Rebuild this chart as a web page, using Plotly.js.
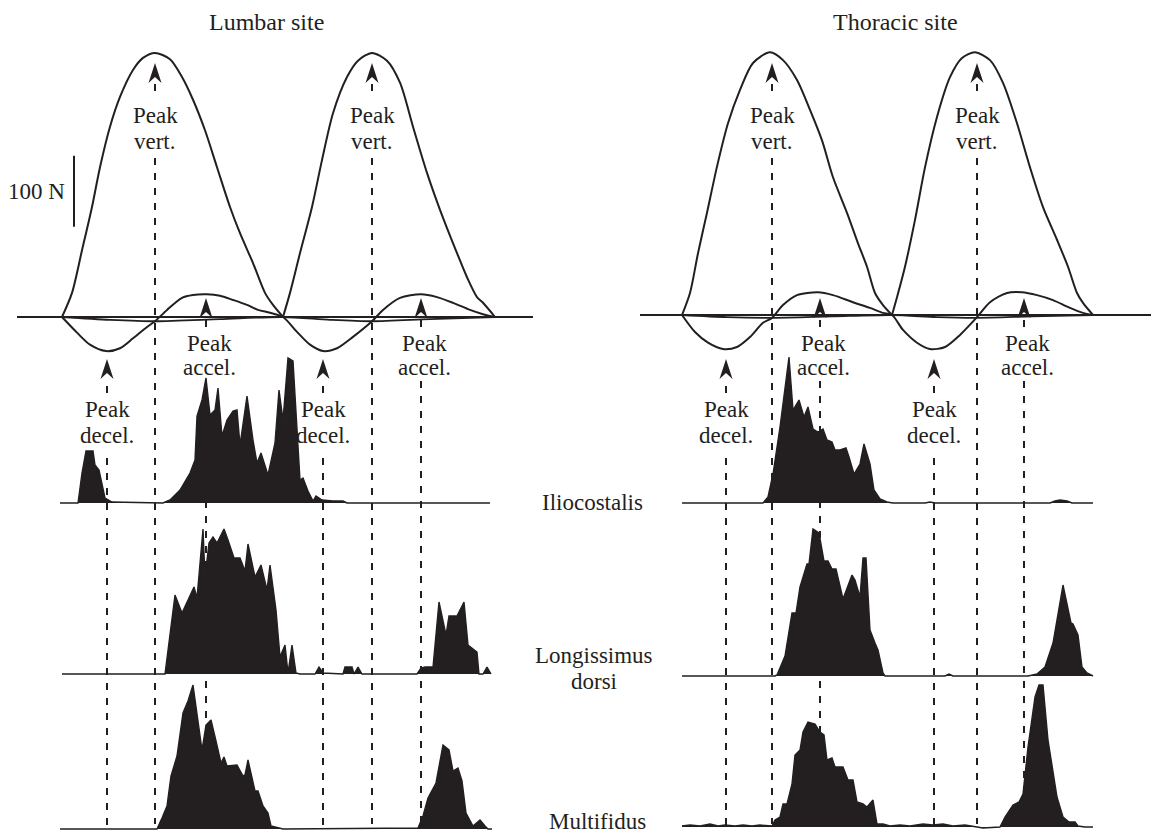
<!DOCTYPE html>
<html><head><meta charset="utf-8">
<script src="https://cdn.plot.ly/plotly-3.0.1.min.js"></script>
<style>html,body{margin:0;padding:0;background:#fff}#chart{width:1151px;height:836px}</style>
</head><body><div id="chart"></div>
<script>
// ================= DATA (time in ms, force in N, EMG in arbitrary units) =================
// Lumbar site – vertical force, two steps (null separates the steps)
const lumbarVertT = [0,20,40,60,76,96,116,142,162,186,216,240,262,286,310,336,356,382,406,422,442,null,
                     442,456,476,500,520,542,570,592,620,650,676,702,730,756,790,810,830,842,866];
const lumbarVertF = [0,34,94,155,211,268,310,348,365,372,363,338,306,263,211,155,118,76,34,17,0,null,
                     0,34,90,155,221,287,338,361,372,361,330,268,203,151,90,56,28,20,0];
// Lumbar site – fore-aft (acceleration / deceleration) force
const lumbarAccT = [0,30,56,88,116,142,170,186,210,240,262,290,316,342,370,392,416,442,470,496,522,550,582,620,642,676,718,750,782,816,842,866];
const lumbarAccF = [0,-22,-39,-48,-44,-30,-14,-6,10,27,31,32,30,24,17,10,6,0,-21,-39,-48,-44,-28,-6,10,27,32,28,20,10,4,0];
// Lumbar site – near-zero third force component
const lumbarLatT = [0,96,186,316,442,536,620,736,866];
const lumbarLatF = [0,-4,-6,-3,0,-4,-6,-3,0];
const lumbarBaseT = [-90,942];

// Thoracic site – vertical force
const thoracicVertT = [0,16,32,50,70,92,116,142,176,202,230,256,280,302,330,352,370,386,402,420,null,
                       420,430,446,466,486,510,536,560,586,616,642,670,696,722,750,772,790,802,822];
const thoracicVertF = [0,31,87,144,209,270,317,355,370,359,331,289,246,194,144,101,68,31,14,0,null,
                       0,25,68,134,208,279,335,362,370,359,327,270,208,152,106,68,31,17,0];
const thoracicAccT = [0,26,52,82,110,136,162,180,202,230,272,302,342,376,402,420,442,470,496,526,556,590,616,650,680,710,742,776,802,822];
const thoracicAccF = [0,-24,-39,-48,-45,-31,-11,-4,14,28,32,28,18,10,3,0,-21,-39,-48,-45,-28,-3,18,31,32,28,21,10,3,0];
const thoracicLatT = [0,90,180,300,420,510,590,700,822];
const thoracicLatF = [0,-3,-4,-2,0,-3,-4,-2,0];
const thoracicBaseT = [-84,938];

// Event times (ms)
const lumbarDecel = [90,522], lumbarVert = [186,620], lumbarAccel = [288,718];
const thoracicDecel = [88,504], thoracicVert = [180,590], thoracicAccel = [276,684];

// EMG – lumbar site
const lumIlioT = [-4,32,40,48,62,66,74,80,86,100,202,216,236,256,266,270,280,288,296,306,312,320,330,342,350,356,370,382,390,398,412,426,434,442,452,462,476,482,492,502,508,520,542,562,570,856];
const lumIlioA = [0,0,30,52,52,38,33,17,5,1,0,3,13,30,43,87,103,125,88,93,115,67,83,92,93,58,107,63,40,50,28,60,113,83,145,142,23,25,12,2,7,3,2,2,0,0];
const lumLongT = [0,206,226,240,264,270,282,286,294,302,310,324,332,344,356,366,372,386,398,410,416,428,436,446,452,460,468,476,506,514,522,562,566,580,584,592,600,710,718,726,742,754,768,774,790,804,812,830,834,842,850,858];
const lumLongA = [0,0,79,61,87,76,145,97,131,137,131,145,134,116,116,103,130,97,109,84,109,64,17,29,1,29,1,0,0,7,1,0,7,7,0,7,0,0,6,7,7,72,39,58,58,72,29,22,0,0,7,0];
const lumMultT = [-4,190,200,210,218,230,242,252,262,280,288,298,308,318,324,330,350,362,366,372,386,392,402,412,418,442,712,722,732,748,762,774,782,792,800,808,822,836,846,852,860];
const lumMultA = [0,0,11,23,53,73,116,128,144,79,104,109,88,66,72,63,64,53,54,69,38,38,23,16,3,0,1,13,31,46,84,79,58,61,48,16,3,9,3,0,0];

// EMG – thoracic site
const thoIlioT = [0,162,172,182,196,206,214,222,234,244,252,262,272,282,290,300,306,316,328,334,344,356,364,376,384,396,410,422,486,496,506,736,746,756,770,780,822];
const thoIlioA = [0,0,6,29,76,116,146,93,103,86,96,74,71,74,63,61,53,53,55,46,29,39,59,39,13,4,1,0,0,1,0,0,2,3,2,0,0];
const thoLongT = [0,186,190,206,220,228,236,250,254,262,274,284,292,300,308,322,340,346,356,362,368,376,386,392,402,406,526,534,542,692,710,726,742,762,778,782,792,800,810,822];
const thoLongA = [0,0,1,20,63,63,89,112,112,147,143,115,115,107,107,77,101,96,79,118,118,46,33,26,3,0,0,2,0,0,2,9,33,91,53,52,41,9,3,0];
const thoMultT = [0,16,36,56,72,86,106,122,140,156,180,186,196,202,210,220,226,236,242,252,266,276,284,290,300,306,322,332,342,350,362,370,382,390,402,416,436,456,482,502,522,542,566,602,636,646,662,674,682,692,706,714,722,732,750,762,774,786,792,806,822];
const thoMultA = [1,2,1,3,1,2,1,2,1,2,1,7,10,23,23,43,72,77,95,105,103,95,92,67,69,60,60,47,47,25,23,20,27,3,3,1,2,1,3,2,3,1,2,-1,0,10,22,25,33,80,130,142,142,87,30,10,5,5,1,0,0];

const panelTitles = ['Lumbar site','Thoracic site'];
const muscleLabels = [['Iliocostalis'],['Longissimus','dorsi'],['Multifidus']];
const eventLabels = {vert:['Peak','vert.'], accel:['Peak','accel.'], decel:['Peak','decel.']};
const scaleBarN = 100;

// ================= LAYOUT / STYLE =================
const INK = '#231f20';
const W = 1151, H = 836;
const FONT = {family:'Liberation Serif, Times New Roman, Times, serif', size:23, color:INK};
const TFONT = Object.assign({}, FONT, {size:24});
const pp = p => (H - p) / H;  // pixel row -> paper fraction

function curve(x, y, xa, ya, w, shape){
  return {type:'scatter', mode:'lines', x, y, xaxis:xa, yaxis:ya, connectgaps:false,
          line:{color:INK, width:w, shape:shape||'linear', smoothing:0.8}, hoverinfo:'skip'};
}
function emg(x, y, xa, ya){
  return {type:'scatter', mode:'lines', x, y, xaxis:xa, yaxis:ya, fill:'tozeroy',
          fillcolor:INK, line:{color:INK, width:1.4}, hoverinfo:'skip'};
}

const traces = [
  curve(lumbarBaseT,[0,0],'x','y',2),
  curve(lumbarLatT,lumbarLatF,'x','y',1.8,'spline'),
  curve(lumbarAccT,lumbarAccF,'x','y',2,'spline'),
  curve(lumbarVertT,lumbarVertF,'x','y',2,'spline'),
  curve(thoracicBaseT,[0,0],'x2','y2',2),
  curve(thoracicLatT,thoracicLatF,'x2','y2',1.8,'spline'),
  curve(thoracicAccT,thoracicAccF,'x2','y2',2,'spline'),
  curve(thoracicVertT,thoracicVertF,'x2','y2',2,'spline'),
  emg(lumIlioT,lumIlioA,'x','y3'),
  emg(thoIlioT,thoIlioA,'x2','y4'),
  emg(lumLongT,lumLongA,'x','y5'),
  emg(thoLongT,thoLongA,'x2','y6'),
  emg(lumMultT,lumMultA,'x','y7'),
  emg(thoMultT,thoMultA,'x2','y8')
];

const hid = {visible:false, showgrid:false, zeroline:false, fixedrange:true};
function emgAxis(b, anchor){ return Object.assign({}, hid, {domain:[pp(b+4), pp(b-160)], range:[-4,160], anchor}); }

const layout = {
  width:W, height:H, margin:{l:0,r:0,t:0,b:0},
  paper_bgcolor:'#fff', plot_bgcolor:'rgba(0,0,0,0)', showlegend:false, hovermode:false,
  xaxis: Object.assign({}, hid, {domain:[0,0.5], range:[-124,1027], anchor:'y'}),
  xaxis2:Object.assign({}, hid, {domain:[0.5,1], range:[-213,938], anchor:'y2'}),
  yaxis: Object.assign({}, hid, {domain:[0,1], range:[-731,446.5], anchor:'x'}),
  yaxis2:Object.assign({}, hid, {domain:[0,1], range:[-733.8,443.7], anchor:'x2'}),
  yaxis3:emgAxis(503,'x'), yaxis4:emgAxis(503,'x2'),
  yaxis5:emgAxis(674,'x'), yaxis6:emgAxis(676,'x2'),
  yaxis7:emgAxis(829,'x'), yaxis8:emgAxis(827,'x2'),
  shapes:[], annotations:[]
};

const evStyle = {
  vert: {tip:63,  dash:[[84,98],[158,824]],  textY:[116,141], dx:0},
  accel:{tip:298, dash:[[320,329],[381,824]], textY:[343,368], dx:3},
  decel:{tip:359, dash:[[386,397],[458,825]], textY:[410,435], dx:0}
};
const panels = [
  {xref:'x',  ev:{decel:lumbarDecel, vert:lumbarVert, accel:lumbarAccel}},
  {xref:'x2', ev:{decel:thoracicDecel, vert:thoracicVert, accel:thoracicAccel}}
];
panels.forEach(p => {
  Object.keys(p.ev).forEach(kind => {
    const st = evStyle[kind];
    p.ev[kind].forEach(t => {
      st.dash.forEach(seg => layout.shapes.push({type:'line', layer:'below', xref:p.xref, yref:'paper',
        x0:t, x1:t, y0:pp(seg[0]), y1:pp(seg[1]), line:{color:INK, width:2, dash:'7px,8px'}}));
      layout.shapes.push({type:'path', xref:p.xref, yref:'paper', xsizemode:'pixel', ysizemode:'pixel',
        xanchor:t, yanchor:pp(st.tip), path:'M0,0 L-6.5,-20 L0,-14 L6.5,-20 Z',
        fillcolor:INK, line:{width:0}});
      eventLabels[kind].forEach((txt,i) => layout.annotations.push({text:txt, showarrow:false,
        xref:p.xref, yref:'paper', x:t, y:pp(st.textY[i]), xshift:st.dx, xanchor:'center', yanchor:'middle', font:FONT}));
    });
  });
});

// panel titles
[[266,22],[895,22]].forEach((pos,i) => layout.annotations.push({text:panelTitles[i], showarrow:false,
  xref:'paper', yref:'paper', x:pos[0]/W, y:pp(pos[1]), xanchor:'center', yanchor:'middle', font:TFONT}));
// muscle labels
const mPos = [[[592,502]],[[594,655],[594,681]],[[597,821]]];
muscleLabels.forEach((lines,i) => lines.forEach((txt,j) => layout.annotations.push({text:txt, showarrow:false,
  xref:'paper', yref:'paper', x:mPos[i][j][0]/W, y:pp(mPos[i][j][1]), xanchor:'center', yanchor:'middle', font:FONT})));
// scale bar 100 N (in force units of the lumbar axis)
layout.shapes.push({type:'line', xref:'paper', yref:'y', x0:74/W, x1:74/W, y0:127, y1:127+scaleBarN, line:{color:INK, width:2}});
layout.annotations.push({text:scaleBarN+' N', showarrow:false, xref:'paper', yref:'y', x:67/W, y:127+scaleBarN/2,
  xanchor:'right', yanchor:'middle', font:FONT});

Plotly.newPlot('chart', traces, layout, {staticPlot:true, displayModeBar:false});
</script></body></html>
